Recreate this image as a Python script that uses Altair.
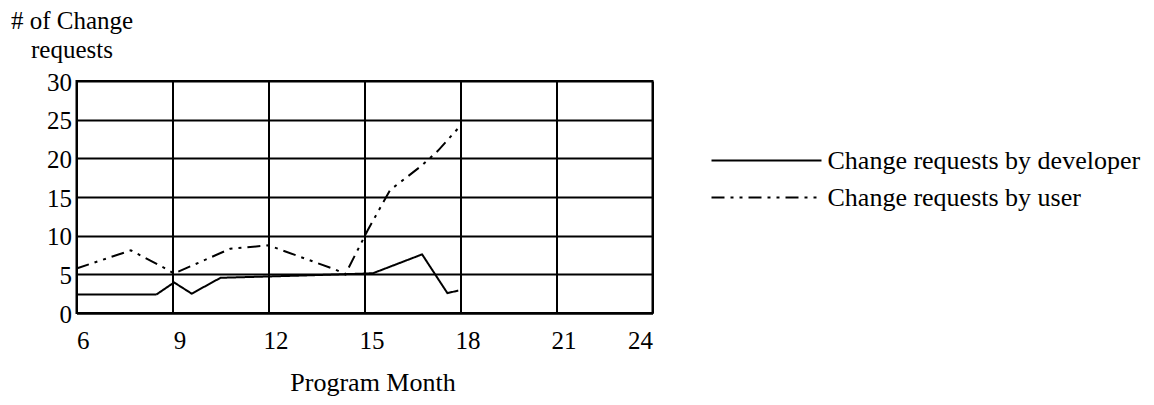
import altair as alt
import pandas as pd

# ---- data ----
series_names = ["Change requests by developer", "Change requests by user"]

dev_month = [6, 8.5, 9.05, 9.6, 10.5, 13.1, 15.0, 15.27, 16.8, 17.59, 17.93]
dev_value = [2.4, 2.4, 3.95, 2.5, 4.55, 4.85, 5.1, 5.15, 7.58, 2.57, 2.9]

user_month = [6, 7.7, 8.8, 9.05, 10.8, 12.0, 14.1, 14.4, 15.1, 15.8, 16.8, 17.3, 17.95]
user_value = [5.75, 8.1, 5.7, 5.1, 8.3, 8.75, 5.6, 5.0, 10.7, 15.9, 19.1, 21.0, 24.0]

x_ticks = [6, 9, 12, 15, 18, 21, 24]
y_ticks = [0, 5, 10, 15, 20, 25, 30]

rows = []
for i, (m, v) in enumerate(zip(dev_month, dev_value)):
    rows.append({"series": series_names[0], "month": m, "value": v, "idx": i})
for i, (m, v) in enumerate(zip(user_month, user_value)):
    rows.append({"series": series_names[1], "month": m, "value": v, "idx": i})
df = pd.DataFrame(rows)

FONT = "Liberation Serif"

chart = alt.Chart(df).mark_line(color="black", strokeWidth=2, clip=True).encode(
    x=alt.X(
        "month:Q",
        scale=alt.Scale(domain=[6, 24], nice=False, zero=False),
        axis=alt.Axis(
            values=x_ticks,
            title="Program Month",
            grid=True,
            ticks=False,
            labelPadding=15,
            labelFlush=True,
            labelOffset={"condition": {"test": "datum.value > 6 && datum.value < 24", "value": 7}, "value": 0},
            titleX=296,
            titleY=77,
            titleAlign="center",
            titleBaseline="alphabetic",
            titleFontSize=26,
        ),
    ),
    y=alt.Y(
        "value:Q",
        scale=alt.Scale(domain=[0, 30], nice=False),
        axis=alt.Axis(
            values=y_ticks,
            title=["# of Change", "requests"],
            titleAngle=0,
            titleAlign="center",
            titleBaseline="alphabetic",
            titleX=-5,
            titleY=-53,
            titleLineHeight=29,
            titleFontSize=25,
            grid=True,
            ticks=False,
            labelPadding=5,
            labelOffset=1,
        ),
    ),
    strokeDash=alt.StrokeDash(
        "series:N",
        scale=alt.Scale(domain=series_names, range=[[1, 0], [13, 6, 3, 6, 3, 6]]),
        legend=alt.Legend(
            title=None,
            orient="none",
            legendX=634,
            legendY=62,
            symbolType="stroke",
            symbolSize=12100,
            symbolStrokeWidth=2,
            symbolStrokeColor="black",
            clipHeight=35,
            rowPadding=2,
            labelOffset=5,
            labelFont=FONT,
            labelFontSize=26,
            labelColor="black",
            labelLimit=500,
            padding=0,
        ),
    ),
    order="idx:Q",
).properties(
    width=576,
    height=232,
    autosize=alt.AutoSizeParams(type="none"),
    padding={"left": 68.5, "top": 73, "right": 493.5, "bottom": 84},
    background="white",
).configure_axis(
    labelFont=FONT,
    labelFontSize=25,
    labelColor="black",
    titleFont=FONT,
    titleColor="black",
    titleFontWeight="normal",
    gridColor="black",
    gridWidth=2,
    gridOpacity=1,
    domainColor="black",
    domainWidth=2,
).configure_view(
    stroke="black",
    strokeWidth=2,
)

chart.save("out.html", embed_options={"renderer": "svg", "actions": False})
